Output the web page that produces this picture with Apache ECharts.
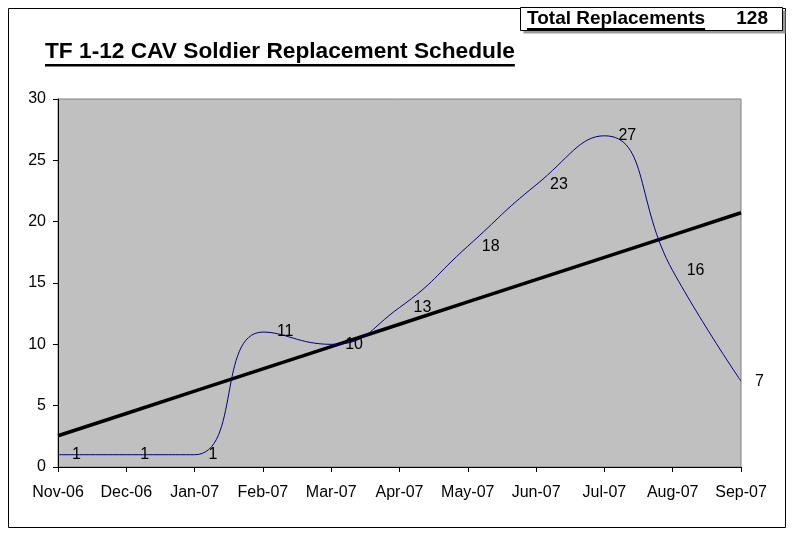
<!DOCTYPE html>
<html>
<head>
<meta charset="utf-8">
<script src="https://cdn.jsdelivr.net/npm/echarts@6/dist/echarts.min.js"></script>
<style>
  html, body { margin: 0; padding: 0; background: #fff; }
  #mainChart { width: 795px; height: 534px; }
</style>
</head>
<body>
<div id="mainChart"></div>
<script>
// 数据
var months = ['Nov-06', 'Dec-06', 'Jan-07', 'Feb-07', 'Mar-07', 'Apr-07', 'May-07', 'Jun-07', 'Jul-07', 'Aug-07', 'Sep-07']
var replacements = [1, 1, 1, 11, 10, 13, 18, 23, 27, 16, 7]
var totalReplacements = 128
var titleText = 'TF 1-12 CAV Soldier Replacement Schedule'

// 线性趋势线 (最小二乘)
function linearTrend (ys) {
  var n = ys.length
  var mx = (n - 1) / 2
  var my = ys.reduce(function (a, b) { return a + b }, 0) / n
  var sxy = 0
  var sxx = 0
  ys.forEach(function (y, i) {
    sxy += (i - mx) * (y - my)
    sxx += (i - mx) * (i - mx)
  })
  var slope = sxy / sxx
  return ys.map(function (y, i) { return my + slope * (i - mx) })
}
var trend = linearTrend(replacements)

function textWidth (txt, font) {
  var ctx = document.createElement('canvas').getContext('2d')
  ctx.font = font
  return ctx.measureText(txt).width
}

var font = 'Liberation Sans, Arial, sans-serif'
var titleFont = 'bold 22.7px ' + font
var titleW = textWidth(titleText, titleFont)
var boxFont = 'bold 19px ' + font
var boxW = textWidth('Total Replacements', boxFont)

var chartReport = echarts.init(document.getElementById('mainChart'))
var option = {
  animation: false,
  backgroundColor: '#fff',
  textStyle: { fontFamily: font },
  grid: {
    left: 58,
    right: 54,
    top: 99,
    bottom: 67,
    show: true,
    backgroundColor: '#c0c0c0',
    borderColor: '#808080',
    borderWidth: 1
  },
  xAxis: {
    type: 'category',
    data: months,
    boundaryGap: false,
    axisLine: { lineStyle: { color: '#000', width: 1 } },
    axisTick: { show: true, length: 5, alignWithLabel: true, lineStyle: { color: '#000' } },
    axisLabel: { color: '#000', fontSize: 16, margin: 18, interval: 0 },
    splitLine: { show: false }
  },
  yAxis: {
    type: 'value',
    min: 0,
    max: 30,
    interval: 5,
    axisLine: { show: true, lineStyle: { color: '#000', width: 1 } },
    axisTick: { show: true, length: 5, lineStyle: { color: '#000' } },
    axisLabel: { color: '#000', fontSize: 16, margin: 12 },
    splitLine: { show: false }
  },
  series: [
    {
      name: 'Trend',
      type: 'line',
      data: trend,
      symbol: 'none',
      lineStyle: { color: '#000', width: 3.5 },
      z: 2
    },
    {
      name: 'Replacements',
      type: 'line',
      data: replacements,
      smooth: 0.5,
      smoothConstraint: false,
      symbol: 'circle',
      symbolSize: 4,
      itemStyle: { color: 'rgba(0,0,0,0)' },
      lineStyle: { color: '#000080', width: 1 },
      label: {
        show: true,
        position: 'right',
        distance: 12,
        color: '#000',
        fontSize: 16
      },
      z: 3
    }
  ],
  graphic: [
    {
      type: 'rect',
      shape: { x: 8.5, y: 8.5, width: 777, height: 519 },
      style: { fill: null, stroke: '#000', lineWidth: 1 },
      silent: true
    },
    {
      type: 'rect',
      shape: { x: 523.5, y: 10.5, width: 262, height: 23 },
      style: { fill: '#999' },
      silent: true
    },
    {
      type: 'rect',
      shape: { x: 520.5, y: 7.5, width: 262, height: 23 },
      style: { fill: '#fff', stroke: '#000', lineWidth: 1 },
      silent: true
    },
    {
      type: 'text',
      x: 527,
      y: 19,
      style: { text: 'Total Replacements', font: boxFont, fill: '#000', verticalAlign: 'middle' },
      silent: true
    },
    {
      type: 'rect',
      shape: { x: 527, y: 28, width: boxW, height: 2 },
      style: { fill: '#000' },
      silent: true
    },
    {
      type: 'text',
      x: 768,
      y: 19,
      style: { text: String(totalReplacements), font: boxFont, fill: '#000', align: 'right', verticalAlign: 'middle' },
      silent: true
    },
    {
      type: 'text',
      x: 45,
      y: 52,
      style: { text: titleText, font: titleFont, fill: '#000', verticalAlign: 'middle' },
      silent: true
    },
    {
      type: 'rect',
      shape: { x: 45, y: 64, width: titleW, height: 2.5 },
      style: { fill: '#000' },
      silent: true
    }
  ]
}
chartReport.setOption(option)
</script>
</body>
</html>
